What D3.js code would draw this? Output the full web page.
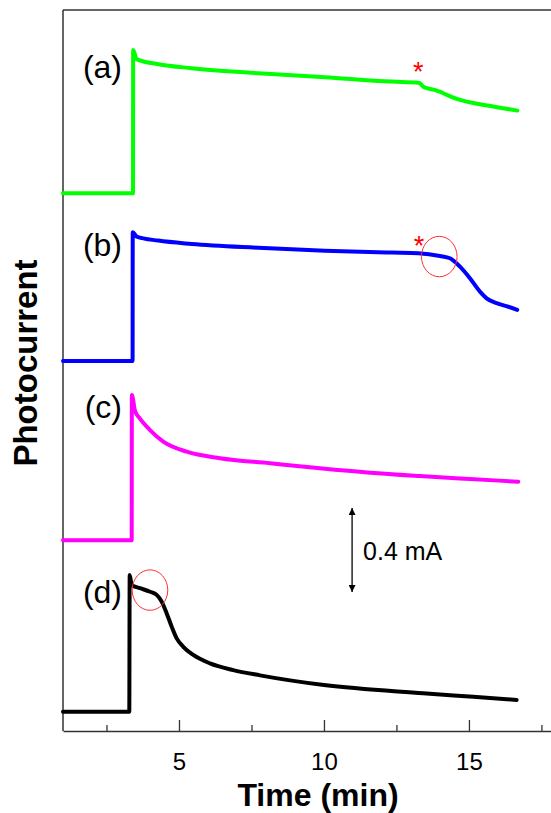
<!DOCTYPE html>
<html>
<head>
<meta charset="utf-8">
<script src="https://cdn.jsdelivr.net/npm/d3@7"></script>
<style>
  html, body { margin: 0; padding: 0; background: #fff; }
  svg { display: block; }
  text { font-family: "Liberation Sans", Arial, sans-serif; }
</style>
</head>
<body>
<svg id="chart" width="551" height="813"></svg>
<script>
// Photocurrent transients (mA), each trace offset vertically for display.
const timeA  = [1.0, 3.414, 3.42, 3.541, 4.286, 5.438, 7.734, 10.034, 12.334, 13.252, 13.31, 13.424, 13.88, 14.0, 14.231, 14.69, 15.38, 16.07, 16.67];
const valueA = [2.560, 2.560, 3.243, 3.199, 3.175, 3.156, 3.132, 3.113, 3.092, 3.087, 3.084, 3.068, 3.050, 3.044, 3.029, 3.005, 2.984, 2.968, 2.954];

const timeB  = [1.0, 3.40, 3.405, 3.541, 4.286, 5.438, 7.734, 10.034, 12.334, 13.252, 14.0, 14.345, 14.69, 15.034, 15.38, 15.61, 15.955, 16.355, 16.665];
const valueB = [1.762, 1.762, 2.375, 2.354, 2.335, 2.319, 2.301, 2.287, 2.278, 2.275, 2.262, 2.251, 2.211, 2.156, 2.092, 2.060, 2.037, 2.020, 2.005];

const timeC  = [1.0, 3.369, 3.375, 3.483, 3.655, 4.0, 4.459, 5.266, 6.414, 8.138, 9.862, 11.586, 13.31, 15.034, 16.7];
const valueC = [0.908, 0.908, 1.600, 1.524, 1.487, 1.433, 1.378, 1.330, 1.299, 1.275, 1.251, 1.230, 1.214, 1.200, 1.187];

const timeD  = [1.0, 3.286, 3.30, 3.369, 3.655, 4.0, 4.231, 4.403, 4.576, 4.748, 4.921, 5.148, 5.493, 6.069, 6.872, 7.793, 10.0, 13.42, 15.15, 16.645];
const valueD = [0.092, 0.092, 0.743, 0.695, 0.680, 0.663, 0.648, 0.616, 0.560, 0.497, 0.441, 0.401, 0.362, 0.322, 0.290, 0.265, 0.219, 0.180, 0.163, 0.148];

const seriesNames  = ["(a)", "(b)", "(c)", "(d)"];
const seriesColors = ["#00ff00", "#0000ff", "#ff00ff", "#000000"];
// Label baselines, in the same units as the traces
const labelValues  = [3.110, 2.260, 1.490, 0.610];

const xMajorTicks = [5, 10, 15];
const xMinorTicks = [2.5, 7.5, 12.5, 17.5];

// Scale bar: 0.4 mA
const scaleBarValue = 0.4;
const scaleBarBottom = 0.662;
const scaleBarTime = 10.97;

// Markers: asterisks at onset of the drop, red ellipses around features
const starTimes  = [13.252, 13.276];
const starValues = [3.167, 2.338];
const ringTimes  = [13.976, 4.0];
const ringValues = [2.259, 0.671];

const svg = d3.select("#chart");
const W = 551, H = 813;
const plotLeft = 63, plotTop = 10, plotBottom = 731;

const x = d3.scaleLinear().domain([1, 17.83]).range([plotLeft, W]);
const y = d3.scaleLinear().domain([0, 3.433]).range([plotBottom, plotTop]);

const axisColor = "#333";

// Frame: left and top lines
svg.append("line").attr("x1", plotLeft).attr("x2", plotLeft).attr("y1", plotTop).attr("y2", plotBottom)
  .attr("stroke", axisColor).attr("stroke-width", 1.5);
svg.append("line").attr("x1", plotLeft).attr("x2", W).attr("y1", plotTop).attr("y2", plotTop)
  .attr("stroke", axisColor).attr("stroke-width", 1.5);

// Bottom axis with inward ticks
const xAxis = svg.append("g").attr("transform", `translate(0,${plotBottom})`)
  .call(d3.axisBottom(x).tickValues(xMajorTicks).tickSizeInner(-11).tickSizeOuter(0).tickPadding(22));
xAxis.select(".domain").attr("stroke", axisColor).attr("stroke-width", 1.5);
xAxis.selectAll(".tick line").attr("stroke", axisColor).attr("stroke-width", 1.3);
xAxis.selectAll(".tick text").attr("font-size", 24).attr("fill", "#000")
  .attr("font-family", "'Liberation Sans', Arial, sans-serif");
const xMinor = svg.append("g").attr("transform", `translate(0,${plotBottom})`)
  .call(d3.axisBottom(x).tickValues(xMinorTicks).tickSizeInner(-6).tickSizeOuter(0).tickFormat(""));
xMinor.select(".domain").remove();
xMinor.selectAll(".tick line").attr("stroke", axisColor).attr("stroke-width", 1.3);

// Axis titles
svg.append("text").attr("x", 318).attr("y", 806).attr("text-anchor", "middle")
  .attr("font-size", 32).attr("font-weight", "bold").text("Time (min)");
svg.append("text").attr("transform", "translate(37,363) rotate(-90)")
  .attr("text-anchor", "middle").attr("font-size", 33).attr("font-weight", "bold").text("Photocurrent");

// Traces
const line = d3.line().x(d => x(d[0])).y(d => y(d[1])).curve(d3.curveMonotoneX);
const traces = [[timeA, valueA], [timeB, valueB], [timeC, valueC], [timeD, valueD]];
traces.forEach(([t, v], i) => {
  svg.append("path").datum(t.map((ti, k) => [ti, v[k]]))
    .attr("d", line).attr("fill", "none")
    .attr("stroke", seriesColors[i]).attr("stroke-width", 4)
    .attr("stroke-linejoin", "round").attr("stroke-linecap", "round");
});

// Trace labels
seriesNames.forEach((name, i) => {
  svg.append("text").attr("x", 122).attr("y", y(labelValues[i])).attr("text-anchor", "end")
    .attr("font-size", 32).text(name);
});

// Asterisks
starTimes.forEach((t, i) => {
  svg.append("text").attr("x", x(t)).attr("y", y(starValues[i]) + 15)
    .attr("text-anchor", "middle").attr("font-size", 27).attr("fill", "#ff0000").text("*");
});

// Red ellipses
ringTimes.forEach((t, i) => {
  svg.append("ellipse").attr("cx", x(t)).attr("cy", y(ringValues[i]))
    .attr("rx", 17.8).attr("ry", 20.2).attr("fill", "none")
    .attr("stroke", "#ff3030").attr("stroke-width", 1);
});

// Double-headed scale bar
const defs = svg.append("defs");
defs.append("marker").attr("id", "head").attr("viewBox", "0 0 10 10")
  .attr("refX", 10).attr("refY", 5).attr("markerWidth", 14).attr("markerHeight", 7)
  .attr("markerUnits", "userSpaceOnUse").attr("orient", "auto-start-reverse")
  .append("path").attr("d", "M0,0 L10,5 L0,10 Z").attr("fill", "#000");
const bx = x(scaleBarTime);
svg.append("line").attr("x1", bx).attr("x2", bx)
  .attr("y1", y(scaleBarBottom)).attr("y2", y(scaleBarBottom + scaleBarValue))
  .attr("stroke", "#000").attr("stroke-width", 1.3)
  .attr("marker-start", "url(#head)").attr("marker-end", "url(#head)");
svg.append("text").attr("x", bx + 11).attr("y", 560).attr("font-size", 25)
  .text(`${scaleBarValue} mA`);
</script>
</body>
</html>
